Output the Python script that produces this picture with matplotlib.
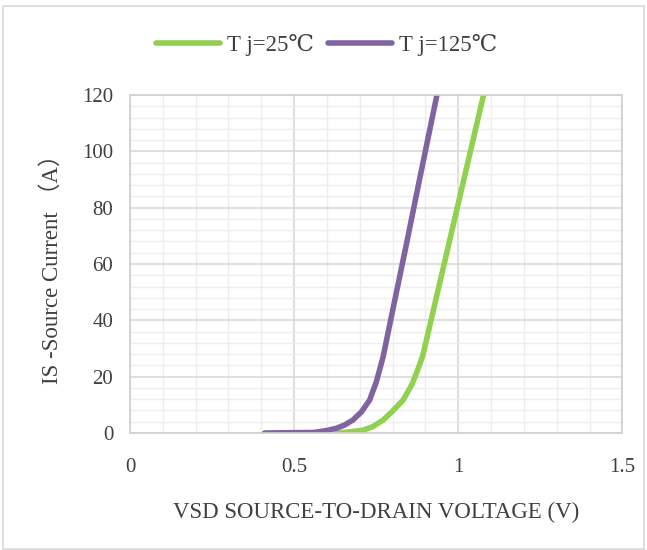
import matplotlib.pyplot as plt
from matplotlib.ticker import MultipleLocator

# Tj = 25 C curve (VSD in V, IS in A)
vsd_25 = [0.63, 0.66, 0.71, 0.74, 0.771, 0.80, 0.832, 0.86, 0.882, 0.892, 0.923, 1.0, 1.077]
is_25 = [0.0, 0.3, 1.0, 2.3, 4.6, 7.8, 11.7, 17.5, 24.2, 27.5, 43.0, 81.5, 120.0]

# Tj = 125 C curve
vsd_125 = [0.41, 0.56, 0.578, 0.60, 0.629, 0.655, 0.679, 0.705, 0.730, 0.750, 0.771, 0.801, 0.842, 0.882, 0.935]
is_125 = [0.0, 0.2, 0.5, 0.9, 1.7, 2.9, 4.6, 7.5, 11.7, 18.0, 27.0, 44.0, 67.0, 90.0, 120.0]

x_ticks = [0, 0.5, 1, 1.5]
x_tick_labels = ['0', '0.5', '1', '1.5']
y_ticks = [0, 20, 40, 60, 80, 100, 120]

font = ['Liberation Serif', 'DejaVu Serif', 'Noto Sans CJK SC']
txt = '#404040'

fig = plt.figure(figsize=(6.47, 5.5), dpi=100)
fig.patches.append(plt.Rectangle((0.005, 0.002), 0.99, 0.988, transform=fig.transFigure,
                                 fill=False, edgecolor='#D9D9D9', linewidth=1.2))
ax = fig.add_axes([0.2009, 0.2127, 0.7611, 0.6146])

ax.plot(vsd_25, is_25, color='#92D050', linewidth=4, solid_capstyle='round', label='T j=25℃')
ax.plot(vsd_125, is_125, color='#8064A2', linewidth=4, solid_capstyle='round', label='T j=125℃')

ax.set_xlim(0, 1.5)
ax.set_ylim(0, 120)
ax.set_xticks(x_ticks)
ax.set_xticklabels(x_tick_labels)
ax.set_yticks(y_ticks)
ax.xaxis.set_minor_locator(MultipleLocator(0.1))
ax.yaxis.set_minor_locator(MultipleLocator(4))
ax.grid(which='major', color='#D9D9D9', linewidth=1.2)
ax.grid(which='minor', color='#EEEEEE', linewidth=1.0)
ax.set_axisbelow(True)
ax.tick_params(which='both', length=0)
ax.tick_params(axis='x', pad=18)
ax.tick_params(axis='y', pad=12)
for lab in ax.get_xticklabels() + ax.get_yticklabels():
    lab.set_family(font)
    lab.set_fontsize(15)
    lab.set_color(txt)
for sp in ax.spines.values():
    sp.set_color('#D0D0D0')
    sp.set_linewidth(1.2)

ax.set_xlabel('VSD SOURCE-TO-DRAIN VOLTAGE (V)', family=font, fontsize=16.5, color=txt, labelpad=18)
ax.set_ylabel('IS -Source Current （A）', family=font, fontsize=16.5, color=txt, labelpad=14)

leg = fig.legend(loc='center', bbox_to_anchor=(0.505, 0.918), ncol=2, frameon=False,
                 prop={'family': font, 'size': 16.5}, handlelength=2.8, columnspacing=0.6,
                 handletextpad=0.3)
for t in leg.get_texts():
    t.set_color(txt)

fig.savefig('out.png', dpi=100)
